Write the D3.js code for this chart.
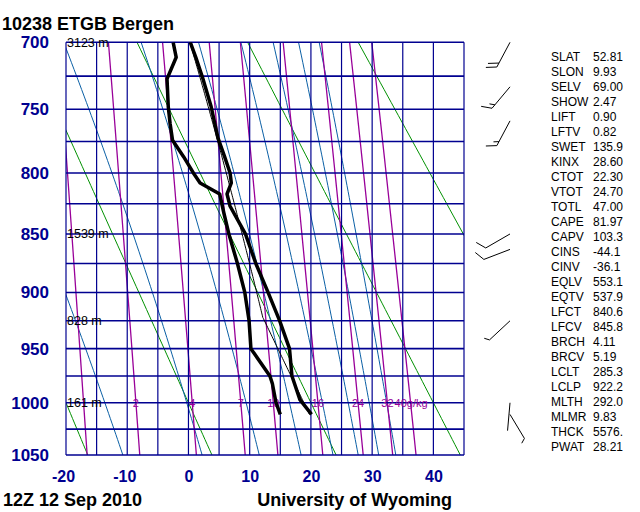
<!DOCTYPE html>
<html><head><meta charset="utf-8">
<script src="https://cdn.jsdelivr.net/npm/d3@7"></script>
<style>body{margin:0;background:#fff}svg{display:block}</style>
</head><body>
<svg id="c" width="640" height="512"></svg>
<script>
// ---------------- data ----------------
const stationTitle = "10238 ETGB Bergen";
const dateLabel = "12Z 12 Sep 2010";
const creditLabel = "University of Wyoming";

const pressureTicks = [700, 750, 800, 850, 900, 950, 1000, 1050];
const isobars = [700, 725, 750, 775, 800, 825, 850, 875, 900, 925, 950, 975, 1000, 1025, 1050];
const tempTicks = [-20, -10, 0, 10, 20, 30, 40];
const isotherms = [-20, -15, -10, -5, 0, 5, 10, 15, 20, 25, 30, 35, 40, 45];
const dryAdiabatsC = [-20, 0, 20, 40, 60, 80];               // potential temperature, deg C
const moistAdiabatsC = [-10, 10, 30, 50, 70, 90, 110, 130];   // equivalent potential temperature, deg C
const mixingRatios = [1, 2, 4, 7, 10, 16, 24, 32, 40];        // g/kg
const labeledRatios = [2, 4, 7, 10, 16, 24, 32, 40];
const mixingLabels = ["2", "4", "7", "10", "16", "24", "32", "40g/kg"];

const heightP = [700, 850, 925, 1000];
const heightLabels = ["3123 m", "1539 m", "828 m", "161 m"];

// environmental temperature profile
const tempP = [1011, 997, 975, 950, 925, 900, 875, 850, 827, 817, 808, 800, 787, 772, 748, 726, 711, 700];
const tempC = [20.1, 18.2, 16.9, 16.5, 14.9, 13.0, 11.0, 9.3, 6.8, 6.3, 7.0, 6.8, 5.9, 4.8, 3.7, 2.3, 1.2, 0.3];
// dew point profile
const dewP = [1011, 1000, 982, 975, 950, 925, 900, 875, 850, 833, 817, 808, 800, 787, 774, 761, 748, 727, 711, 700];
const dewC = [15.0, 14.3, 13.7, 13.3, 10.2, 9.9, 9.2, 8.0, 6.6, 5.8, 5.1, 1.9, 0.8, -0.8, -2.6, -3.0, -3.3, -3.5, -2.0, -2.5];

// wind barbs: pressure, direction (deg), speed (knots)
const windP = [700, 733, 759, 850, 863, 925, 1000, 1011];
const windDir = [208, 220, 208, 240, 249, 227, 185, 149];
const windSpd = [20, 15, 15, 10, 10, 5, 2, 5];

// station indices
const indexNames = ["SLAT","SLON","SELV","SHOW","LIFT","LFTV","SWET","KINX","CTOT","VTOT","TOTL","CAPE","CAPV","CINS","CINV","EQLV","EQTV","LFCT","LFCV","BRCH","BRCV","LCLT","LCLP","MLTH","MLMR","THCK","PWAT"];
const indexValues = ["52.81","9.93","69.00","2.47","0.90","0.82","135.9","28.60","22.30","24.70","47.00","81.97","103.3","-44.1","-36.1","553.1","537.9","840.6","845.8","4.11","5.19","285.3","922.2","292.0","9.83","5576.","28.21"];

// ---------------- layout ----------------
const svg = d3.select("#c");
const X0 = 66, X1 = 464, Y0 = 42.3, Y1 = 455;
const x = d3.scaleLinear().domain([-20, 45]).range([X0, X1]);
const y = d3.scalePow().exponent(0.286).domain([700, 1050]).range([Y0, Y1]);
const NAVY = "#000090", PURPLE = "#990099", BLUE = "#0a5fa5", GREEN = "#009000";
const FONT = "Liberation Sans, Arial, Helvetica, sans-serif";

svg.append("defs").append("clipPath").attr("id", "plot")
  .append("rect").attr("x", X0).attr("y", Y0).attr("width", X1 - X0).attr("height", Y1 - Y0);

const K = 0.2857;
function satThetaE(tc, p) {
  const es = 6.112 * Math.exp(17.67 * tc / (tc + 243.5));
  const r = 622 * es / (p - es);
  const tk = tc + 273.15;
  return tk * Math.pow(1000 / p, 0.2854 * (1 - 0.00028 * r)) *
         Math.exp((3.376 / tk - 0.00254) * r * (1 + 0.00081 * r));
}
function tOnThetaE(te, p) {
  let lo = -90, hi = 60;
  for (let i = 0; i < 60; i++) {
    const mid = (lo + hi) / 2;
    if (satThetaE(mid, p) > te) hi = mid; else lo = mid;
  }
  return (lo + hi) / 2;
}
function tdFromMix(w, p) {
  const e = w * p / (622 + w);
  const l = Math.log(e / 6.112);
  return 243.5 * l / (17.67 - l);
}
const pLevels = d3.range(690, 1061, 5);
const line = d3.line().x(d => x(d[0])).y(d => y(d[1]));

const bg = svg.append("g").attr("clip-path", "url(#plot)").attr("fill", "none");

// dry adiabats
bg.selectAll(".dry").data(dryAdiabatsC).join("path")
  .attr("stroke", GREEN).attr("stroke-width", 1)
  .attr("d", th => line(pLevels.map(p => [(th + 273.15) * Math.pow(p / 1000, K) - 273.15, p])));
// moist adiabats
bg.selectAll(".moist").data(moistAdiabatsC).join("path")
  .attr("stroke", BLUE).attr("stroke-width", 1)
  .attr("d", te => line(pLevels.map(p => [tOnThetaE(te + 273.15, p), p])));
// mixing ratio lines
bg.selectAll(".mix").data(mixingRatios).join("path")
  .attr("stroke", PURPLE).attr("stroke-width", 1.3)
  .attr("d", w => line(pLevels.map(p => [tdFromMix(w, p), p])));

// grid
const grid = svg.append("g");
grid.selectAll(".iso").data(isotherms).join("line")
  .attr("x1", d => x(d)).attr("x2", d => x(d)).attr("y1", Y0).attr("y2", Y1)
  .attr("stroke", NAVY).attr("stroke-width", 1.2);
grid.selectAll(".bar").data(isobars).join("line")
  .attr("x1", X0).attr("x2", X1).attr("y1", d => y(d)).attr("y2", d => y(d))
  .attr("stroke", NAVY).attr("stroke-width", 1.6);

// mixing ratio labels
svg.append("g").selectAll("text").data(labeledRatios).join("text")
  .attr("x", w => x(tdFromMix(w, 1000))).attr("y", y(1000)).attr("dy", "0.36em")
  .attr("text-anchor", (w, i) => i === labeledRatios.length - 1 ? "start" : "middle")
  .attr("dx", (w, i) => i === labeledRatios.length - 1 ? -16 : 0)
  .attr("fill", PURPLE).attr("font-family", FONT).attr("font-size", 11)
  .text((w, i) => mixingLabels[i]);

// height labels
svg.append("g").selectAll("text").data(heightP).join("text")
  .attr("x", X0 + 1).attr("y", p => y(p)).attr("dy", "0.36em")
  .attr("fill", "#000").attr("font-family", FONT).attr("font-size", 12.5)
  .text((p, i) => heightLabels[i]);

// profiles
const prof = svg.append("g").attr("clip-path", "url(#plot)").attr("fill", "none");
// parcel path from mixed layer (MLTH, LCLP, LCLT)
const mlTheta = +indexValues[indexNames.indexOf("MLTH")];
const lclP = +indexValues[indexNames.indexOf("LCLP")];
const lclT = +indexValues[indexNames.indexOf("LCLT")];
const lclTe = satThetaE(lclT - 273.15, lclP);
const parcel = [];
for (let p = tempP[0]; p > lclP; p -= 2) parcel.push([mlTheta * Math.pow(p / 1000, K) - 273.15, p]);
parcel.push([lclT - 273.15, lclP]);
for (let p = Math.floor(lclP); p >= 690; p -= 2) parcel.push([tOnThetaE(lclTe, p), p]);
prof.append("path").attr("stroke", "#000").attr("stroke-width", 1).attr("d", line(parcel));

prof.append("path").attr("stroke", "#000").attr("stroke-width", 3.5).attr("stroke-linejoin", "round")
  .attr("d", line(tempP.map((p, i) => [tempC[i], p])));
prof.append("path").attr("stroke", "#000").attr("stroke-width", 3.5).attr("stroke-linejoin", "round")
  .attr("d", line(dewP.map((p, i) => [dewC[i], p])));

// axes
const yAxis = svg.append("g").attr("transform", `translate(${X0},0)`)
  .call(d3.axisLeft(y).tickValues(pressureTicks).tickSize(0).tickPadding(17).tickFormat(d3.format("d")));
yAxis.select(".domain").remove();
yAxis.selectAll("text").attr("fill", NAVY).attr("font-size", 17).attr("font-weight", "bold").attr("font-family", FONT);

const xAxis = svg.append("g").attr("transform", `translate(0,${Y1})`)
  .call(d3.axisBottom(x).tickValues(tempTicks).tickSize(0).tickPadding(16).tickFormat(d3.format("d")));
xAxis.select(".domain").remove();
xAxis.selectAll("text").attr("fill", NAVY).attr("font-size", 16).attr("font-weight", "bold").attr("font-family", FONT)
  .attr("dx", d => d < 0 ? -3 : 0).text(d => String(d));

// titles
svg.append("text").attr("x", 2).attr("y", 30).attr("font-family", FONT).attr("font-weight", "bold")
  .attr("font-size", 18).text(stationTitle);
svg.append("text").attr("x", 3).attr("y", 506).attr("font-family", FONT).attr("font-weight", "bold")
  .attr("font-size", 18).text(dateLabel);
svg.append("text").attr("x", 452).attr("y", 506).attr("text-anchor", "end").attr("font-family", FONT).attr("font-weight", "bold")
  .attr("font-size", 18).text(creditLabel);

// indices
const idx = svg.append("g").attr("font-family", FONT).attr("font-size", 12).attr("fill", "#000");
idx.selectAll(".n").data(indexNames).join("text").attr("x", 551).attr("y", (d, i) => 56.7 + 15 * i).attr("dy", "0.36em").text(d => d);
idx.selectAll(".v").data(indexValues).join("text").attr("x", 593).attr("y", (d, i) => 56.7 + 15 * i).attr("dy", "0.36em").text(d => d);

// wind barbs
const BX = 510, L = 28, FL = 11, SP = 4.5;
const barbs = svg.append("g").attr("stroke", "#000").attr("stroke-width", 1).attr("fill", "none");
windP.forEach((p, i) => {
  const a = windDir[i] * Math.PI / 180;
  const dx = Math.sin(a), dy = -Math.cos(a);
  const x0 = BX, y0 = y(p);
  const tx = x0 + dx * L, ty = y0 + dy * L;
  let s = `M${x0},${y0}L${tx},${ty}`;
  // feather direction: staff direction rotated +60 deg
  const r = 60 * Math.PI / 180;
  const fx = dx * Math.cos(r) - dy * Math.sin(r), fy = dx * Math.sin(r) + dy * Math.cos(r);
  let spd = windSpd[i], pos = 0;
  while (spd >= 10) {
    const bx = tx - dx * SP * pos, by = ty - dy * SP * pos;
    s += `M${bx},${by}l${fx * FL},${fy * FL}`;
    spd -= 10; pos++;
  }
  if (spd >= 5) {
    const bx = tx - dx * SP * pos, by = ty - dy * SP * pos;
    s += `M${bx},${by}l${fx * FL / 2},${fy * FL / 2}`;
  }
  barbs.append("path").attr("d", s);
});
</script>
</body></html>
